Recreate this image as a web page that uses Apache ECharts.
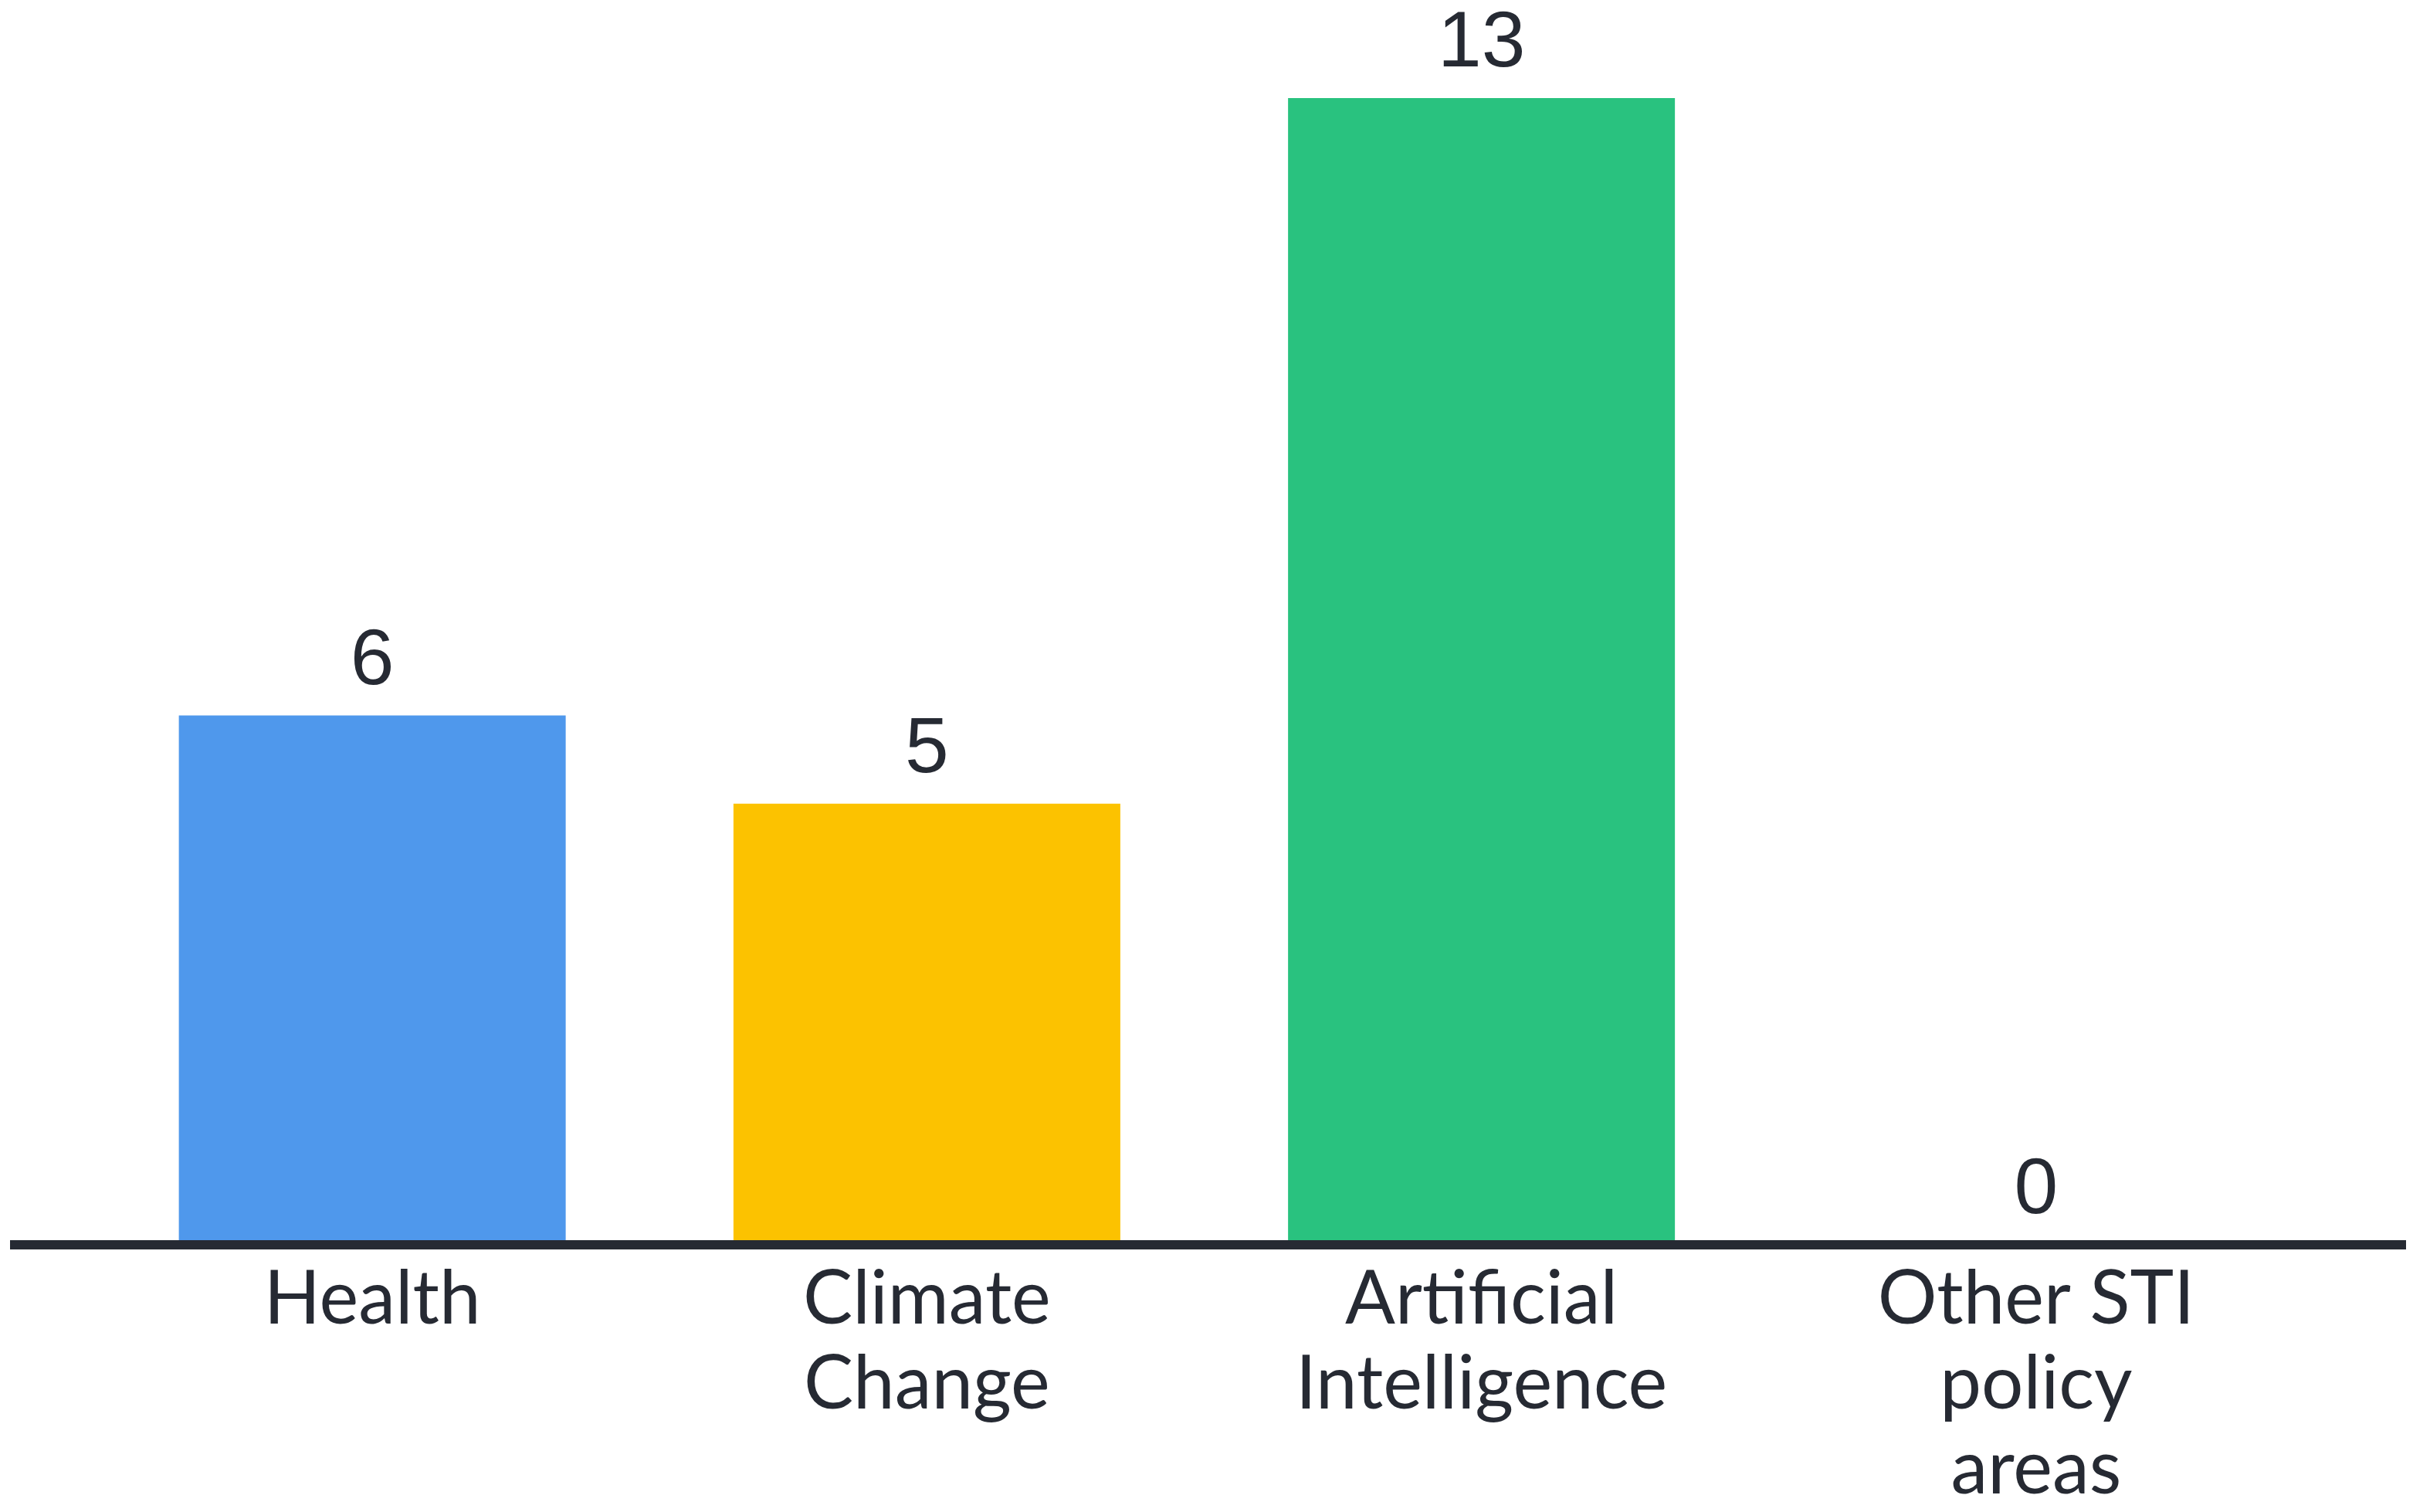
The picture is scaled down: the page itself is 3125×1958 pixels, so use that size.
<!DOCTYPE html>
<html>
<head>
<meta charset="utf-8">
<script src="https://cdn.jsdelivr.net/npm/echarts@6/dist/echarts.min.js"></script>
<style>
html,body{margin:0;padding:0;background:#ffffff;}
#chart{width:3125px;height:1958px;}
</style>
</head>
<body>
<div id="chart"></div>
<script>
const categories = ['Health', 'Climate\nChange', 'Artificial\nIntelligence', 'Other STI\npolicy\nareas'];
const values = [6, 5, 13, 0];
const barColors = ['#4f98ec', '#fcc200', '#29c27f', '#29c27f'];

const chart = echarts.init(document.getElementById('chart'), null, {renderer: 'canvas'});
const textColor = '#262a33';

const option = {
  backgroundColor: '#ffffff',
  animation: false,
  grid: {left: 123, right: 129, top: 127, bottom: 338, containLabel: false},
  xAxis: {
    type: 'category',
    data: categories,
    boundaryGap: true,
    axisLine: {show: false},
    axisTick: {show: false},
    axisLabel: {
      color: textColor,
      fontFamily: 'Lato',
      fontSize: 96,
      lineHeight: 110,
      margin: 16,
      interval: 0
    }
  },
  yAxis: {
    type: 'value',
    min: 0,
    max: 13,
    show: false,
    splitLine: {show: false}
  },
  series: [{
    type: 'bar',
    data: values.map((v, i) => ({value: v, itemStyle: {color: barColors[i]}})),
    barWidth: 501,
    label: {
      show: true,
      position: 'top',
      distance: 18,
      color: textColor,
      fontFamily: 'Liberation Sans',
      fontSize: 102
    }
  }]
};
chart.setOption(option);

const y0 = chart.convertToPixel({yAxisIndex: 0}, 0);
chart.setOption({
  graphic: [{
    type: 'line',
    shape: {x1: 13, y1: y0, x2: 3116, y2: y0},
    style: {stroke: '#262a33', lineWidth: 12},
    z: 100
  }]
});
</script>
</body>
</html>
